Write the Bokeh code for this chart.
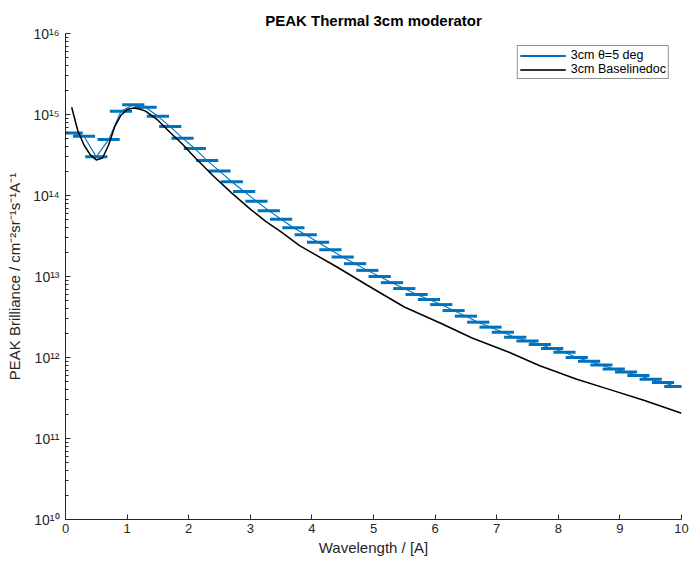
import numpy as np
from bokeh.plotting import figure
from bokeh.models import (Range1d, ColumnDataSource, CustomJSTickFormatter,
                          FixedTicker, Legend, LegendItem)
from bokeh.embed import file_html
from bokeh.resources import INLINE

# ---- data ----
# 3cm theta=5 deg : bin centres [A] and brilliance
theta_wl = [0.1, 0.3, 0.5, 0.7, 0.9, 1.1, 1.3, 1.5, 1.7, 1.9,
            2.1, 2.3, 2.5, 2.7, 2.9, 3.1, 3.3, 3.5, 3.7, 3.9,
            4.1, 4.3, 4.5, 4.7, 4.9, 5.1, 5.3, 5.5, 5.7, 5.9,
            6.1, 6.3, 6.5, 6.7, 6.9, 7.1, 7.3, 7.5, 7.7, 7.9,
            8.1, 8.3, 8.5, 8.7, 8.9, 9.1, 9.3, 9.5, 9.7, 9.9]
theta_bri = [5.9e14, 5.4e14, 3.0e14, 4.9e14, 1.10e15, 1.32e15, 1.23e15, 9.5e14, 7.1e14, 5.1e14,
             3.8e14, 2.7e14, 2.0e14, 1.48e14, 1.12e14, 8.5e13, 6.5e13, 5.1e13, 4.0e13, 3.27e13,
             2.65e13, 2.14e13, 1.74e13, 1.44e13, 1.19e13, 1.0e13, 8.4e12, 7.1e12, 6.0e12, 5.2e12,
             4.5e12, 3.8e12, 3.24e12, 2.73e12, 2.37e12, 2.05e12, 1.78e12, 1.60e12, 1.45e12, 1.29e12,
             1.16e12, 1.0e12, 9.0e11, 8.1e11, 7.2e11, 6.6e11, 6.0e11, 5.4e11, 4.9e11, 4.4e11]
theta_halfwidth = 0.18   # horizontal error (bin half width) [A]

# 3cm Baselinedoc
base_wl = [0.1, 0.2, 0.3, 0.4, 0.5, 0.6, 0.7, 0.8, 0.9, 1.0, 1.1, 1.2, 1.3, 1.5, 1.7, 1.9,
           2.1, 2.4, 2.7, 3.0, 3.25, 3.5, 3.8, 4.4, 4.9, 5.5, 6.1, 6.6, 7.2, 7.7, 8.3, 8.8, 9.4, 10.0]
base_bri = [1.23e15, 6.3e14, 4.2e14, 3.2e14, 2.75e14, 2.9e14, 4.2e14, 7.1e14, 9.8e14, 1.15e15,
            1.2e15, 1.17e15, 1.1e15, 8.5e14, 6.0e14, 4.3e14,
            2.95e14, 1.74e14, 1.07e14, 6.8e13, 4.8e13, 3.55e13, 2.4e13, 1.32e13, 7.8e12, 4.2e12,
            2.63e12, 1.74e12, 1.16e12, 7.9e11, 5.4e11, 4.1e11, 2.95e11, 2.05e11]

x_ticks = [0, 1, 2, 3, 4, 5, 6, 7, 8, 9, 10]
y_decades = [10, 11, 12, 13, 14, 15, 16]

FONT = "Liberation Sans"
TXT = "#262626"
BLUE = "#0072BD"

p = figure(width=693, height=562, y_axis_type="log",
           x_range=Range1d(0, 10), y_range=Range1d(1e10, 1e16),
           output_backend="svg", toolbar_location=None,
           min_border_left=65, min_border_right=12,
           min_border_top=33, min_border_bottom=43)

p.title.text = "PEAK Thermal 3cm moderator"
p.title.align = "center"
p.title.text_font = FONT
p.title.text_font_size = "15px"
p.title.text_font_style = "bold"
p.title.text_color = "black"

p.outline_line_color = None
p.xgrid.visible = False
p.ygrid.visible = False
p.background_fill_color = "white"
p.border_fill_color = "white"

# series
src = ColumnDataSource(dict(
    x=theta_wl, y=theta_bri,
    x0=[v - theta_halfwidth for v in theta_wl],
    x1=[v + theta_halfwidth for v in theta_wl]))
p.line("x", "y", source=src, line_color=BLUE, line_width=1.1)
p.segment(x0="x0", x1="x1", y0="y", y1="y", source=src,
          line_color=BLUE, line_width=3)
p.line(base_wl, base_bri, line_color="black", line_width=1.5)

# legend-only renderers (NaN data: nothing drawn in the plot) for thicker key lines
nan_src = ColumnDataSource(dict(x=[np.nan, np.nan], y=[np.nan, np.nan]))
leg_blue = p.line("x", "y", source=nan_src, line_color=BLUE, line_width=2)
leg_black = p.line("x", "y", source=nan_src, line_color="#333333", line_width=2)

# axes
p.xaxis.ticker = FixedTicker(ticks=x_ticks, minor_ticks=[])
minor = [k * 10.0 ** d for d in y_decades[:-1] for k in range(2, 10)]
p.yaxis.ticker = FixedTicker(ticks=[10.0 ** d for d in y_decades], minor_ticks=minor)
p.yaxis.formatter = CustomJSTickFormatter(code="""
const sup = {'0':'\u2070','1':'\u00b9','2':'\u00b2','3':'\u00b3','4':'\u2074',
             '5':'\u2075','6':'\u2076','7':'\u2077','8':'\u2078','9':'\u2079','-':'\u207b'};
const e = Math.round(Math.log10(tick));
return '10' + String(e).split('').map(c => sup[c]).join('');
""")

for ax in (p.xaxis[0], p.yaxis[0]):
    ax.axis_line_color = TXT
    ax.axis_line_width = 1
    ax.major_tick_line_color = TXT
    ax.minor_tick_line_color = TXT
    ax.major_tick_in = 5
    ax.major_tick_out = 0
    ax.minor_tick_in = 3
    ax.minor_tick_out = 0
    ax.major_label_text_font = FONT
    ax.major_label_text_font_size = "13px"
    ax.major_label_text_color = TXT
    ax.axis_label_text_font = FONT
    ax.axis_label_text_font_size = "15px"
    ax.axis_label_text_font_style = "normal"
    ax.axis_label_text_color = TXT

p.yaxis.major_label_text_font_size = "14px"
p.xaxis.axis_label = "Wavelength / [A]"
p.xaxis.major_label_standoff = 4
p.xaxis.axis_label_standoff = 3
p.yaxis.axis_label = "PEAK Brilliance / cm\u207b\u00b2sr\u207b\u00b9s\u207b\u00b9A\u207b\u00b9"
p.yaxis.major_label_standoff = 6
p.yaxis.axis_label_standoff = 7

legend = Legend(items=[LegendItem(label="3cm \u03b8=5 deg", renderers=[leg_blue]),
                       LegendItem(label="3cm Baselinedoc", renderers=[leg_black])],
                location="top_right", margin=12, padding=2, spacing=-2,
                label_text_font=FONT, label_text_font_size="12.5px",
                label_text_line_height=1.0,
                label_text_color="black", label_height=11, glyph_height=11,
                glyph_width=46, label_standoff=5,
                border_line_color=TXT, border_line_width=1.5,
                background_fill_color="white", background_fill_alpha=1.0)
p.add_layout(legend, "center")

open("out.html", "w").write(file_html(p, INLINE))
